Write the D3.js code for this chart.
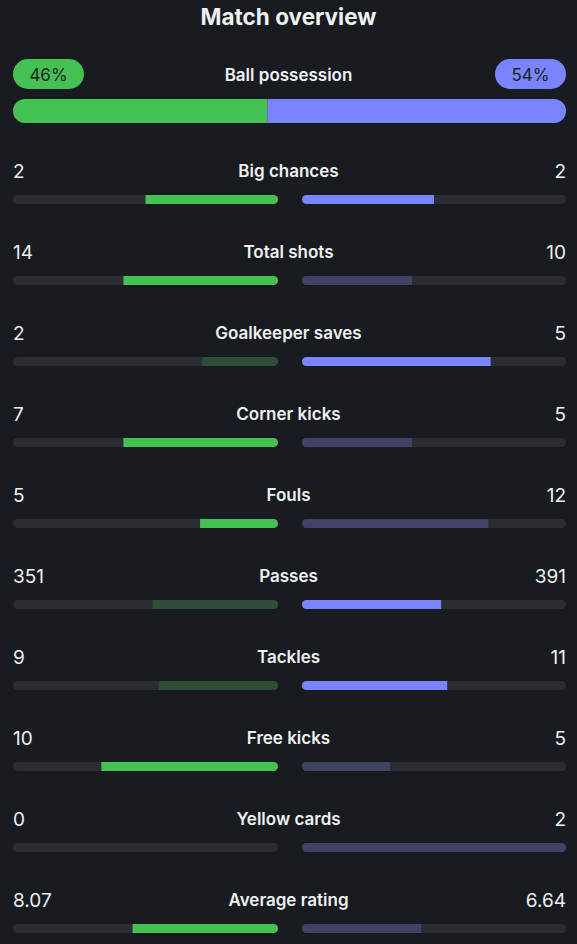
<!DOCTYPE html>
<html>
<head>
<meta charset="utf-8">
<script src="https://cdn.jsdelivr.net/npm/d3@7"></script>
<style>
  html, body { margin: 0; padding: 0; background: #181c20; }
  svg { display: block; }
  text { font-family: Inter, "Noto Sans", sans-serif; fill: #eef0f2; }
</style>
</head>
<body>
<script>
  var categories = ["Big chances", "Total shots", "Goalkeeper saves", "Corner kicks", "Fouls",
                    "Passes", "Tackles", "Free kicks", "Yellow cards", "Average rating"];
  var homeValues = [2, 14, 2, 7, 5, 351, 9, 10, 0, 8.07];
  var awayValues = [2, 10, 5, 5, 12, 391, 11, 5, 2, 6.64];
  var homeLabels = ["2", "14", "2", "7", "5", "351", "9", "10", "0", "8.07"];
  var awayLabels = ["2", "10", "5", "5", "12", "391", "11", "5", "2", "6.64"];
  var lowerIsBetter = ["Fouls", "Yellow cards"];
  var possession = [46, 54];

  var w = 577, h = 944;
  var green = "#45c153", greenDim = "#2f4e37";
  var blue = "#7b84ff", blueDim = "#404366";
  var track = "#2a2e33";

  var svg = d3.select("body").append("svg")
    .attr("width", w)
    .attr("height", h);

  svg.append("text")
    .attr("x", w / 2)
    .attr("y", 25)
    .attr("text-anchor", "middle")
    .style("font-size", "22.5px")
    .style("font-weight", 700)
    .text("Match overview");

  // ball possession
  var px = d3.scaleLinear().domain([0, d3.sum(possession)]).range([13, 566]);
  var defs = svg.append("defs");
  defs.append("clipPath").attr("id", "clip-pos")
    .append("rect")
    .attr("x", 13).attr("y", 99).attr("width", 553).attr("height", 24).attr("rx", 12);
  var pos = svg.append("g").attr("clip-path", "url(#clip-pos)");
  pos.append("rect")
    .attr("x", px(0)).attr("y", 99)
    .attr("width", px(possession[0]) - px(0)).attr("height", 24)
    .attr("fill", green);
  pos.append("rect")
    .attr("x", px(possession[0])).attr("y", 99)
    .attr("width", px(d3.sum(possession)) - px(possession[0])).attr("height", 24)
    .attr("fill", blue);

  var pills = [
    {x: 13, fill: green, label: possession[0] + "%"},
    {x: 495, fill: blue, label: possession[1] + "%"}
  ];
  pills.forEach(function(p) {
    svg.append("rect")
      .attr("x", p.x).attr("y", 59).attr("width", 71).attr("height", 30).attr("rx", 15)
      .attr("fill", p.fill);
    svg.append("text")
      .attr("x", p.x + 35.5).attr("y", 80.5)
      .attr("text-anchor", "middle")
      .style("font-size", "17px")
      .style("fill", "#1b1f24")
      .text(p.label);
  });
  svg.append("text")
    .attr("x", w / 2).attr("y", 81)
    .attr("text-anchor", "middle")
    .style("font-size", "17px")
    .style("font-weight", 600)
    .text("Ball possession");

  // stat rows
  var y = d3.scalePoint().domain(categories).range([177, 906]);
  var leftX = d3.scaleLinear().domain([0, 1]).range([278, 13]);
  var rightX = d3.scaleLinear().domain([0, 1]).range([302, 566]);
  var barH = 9;

  categories.forEach(function(cat, i) {
    var hv = homeValues[i], av = awayValues[i];
    var total = hv + av;
    var hf = total ? hv / total : 0, af = total ? av / total : 0;
    var low = lowerIsBetter.indexOf(cat) >= 0;
    var homeWins = low ? hv <= av : hv >= av;
    var awayWins = low ? av <= hv : av >= hv;
    var by = y(cat) + 18;

    svg.append("text")
      .attr("x", w / 2).attr("y", y(cat))
      .attr("text-anchor", "middle")
      .style("font-size", "17px")
      .style("font-weight", 600)
      .text(cat);
    svg.append("text")
      .attr("x", 13).attr("y", y(cat) + 0.5)
      .style("font-size", "19px")
      .text(homeLabels[i]);
    svg.append("text")
      .attr("x", 566).attr("y", y(cat) + 0.5)
      .attr("text-anchor", "end")
      .style("font-size", "19px")
      .text(awayLabels[i]);

    // home side
    defs.append("clipPath").attr("id", "ch" + i)
      .append("rect")
      .attr("x", leftX(1)).attr("y", by).attr("width", leftX(0) - leftX(1))
      .attr("height", barH).attr("rx", barH / 2);
    var gh = svg.append("g").attr("clip-path", "url(#ch" + i + ")");
    gh.append("rect")
      .attr("x", leftX(1)).attr("y", by).attr("width", leftX(0) - leftX(1))
      .attr("height", barH).attr("fill", track);
    gh.append("rect")
      .attr("x", leftX(hf)).attr("y", by).attr("width", leftX(0) - leftX(hf))
      .attr("height", barH).attr("fill", homeWins ? green : greenDim);

    // away side
    defs.append("clipPath").attr("id", "ca" + i)
      .append("rect")
      .attr("x", rightX(0)).attr("y", by).attr("width", rightX(1) - rightX(0))
      .attr("height", barH).attr("rx", barH / 2);
    var ga = svg.append("g").attr("clip-path", "url(#ca" + i + ")");
    ga.append("rect")
      .attr("x", rightX(0)).attr("y", by).attr("width", rightX(1) - rightX(0))
      .attr("height", barH).attr("fill", track);
    ga.append("rect")
      .attr("x", rightX(0)).attr("y", by).attr("width", rightX(af) - rightX(0))
      .attr("height", barH).attr("fill", awayWins ? blue : blueDim);
  });
</script>
</body>
</html>
